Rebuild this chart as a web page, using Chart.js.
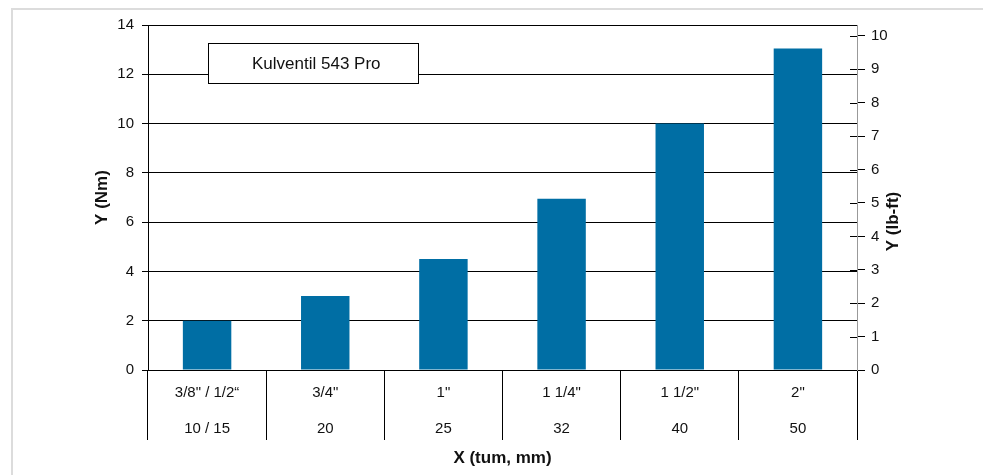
<!DOCTYPE html>
<html>
<head>
<meta charset="utf-8">
<script src="https://cdn.jsdelivr.net/npm/chart.js@4"></script>
<style>
    body { margin: 0; background: #fff; }
    #wrap { position: relative; width: 983px; height: 475px; overflow: hidden; }
    #frame { position: absolute; left: 11px; top: 8px; width: 990px; height: 480px; border-left: 2px solid #dcdcdc; border-top: 2px solid #dcdcdc; }
    canvas { position: absolute; left: 0; top: 0; }
</style>
</head>
<body>
<div id="wrap">
    <div id="frame"></div>
    <canvas id="chart" width="983" height="475"></canvas>
</div>
<script>
const sizesInch = ['3/8" / 1/2“', '3/4"', '1"', '1 1/4"', '1 1/2"', '2"'];
const sizesMm = ['10 / 15', '20', '25', '32', '40', '50'];
const torqueNm = [2, 3, 4.5, 6.95, 10, 13.05];
const lbftTicks = [0, 1, 2, 3, 4, 5, 6, 7, 8, 9, 10];
const seriesName = 'Kulventil 543 Pro';
const rightTitle = 'Y (lb-ft)';
const nmToLbft = 0.7376;

// deux lignes par catégorie : tum puis mm
const labels = sizesInch.map((s, i) => [s, sizesMm[i]]);

const font = { family: '"Liberation Sans", Arial, sans-serif', size: 15 };
const titleFont = { family: '"Liberation Sans", Arial, sans-serif', size: 17, weight: 'bold' };

// boite de légende sans carré de couleur
const legendBox = {
    id: 'legendBox',
    afterDraw(chart) {
        const ctx = chart.ctx;
        const area = chart.chartArea;
        const x = area.left + 60, y = area.top + 18;
        ctx.save();
        ctx.fillStyle = '#fff';
        ctx.strokeStyle = '#000';
        ctx.lineWidth = 1;
        ctx.fillRect(x, y, 210, 40);
        ctx.strokeRect(x + 0.5, y + 0.5, 210, 40);
        ctx.fillStyle = '#111';
        ctx.font = '17px "Liberation Sans", Arial, sans-serif';
        ctx.textBaseline = 'middle';
        ctx.fillText(chart.data.datasets[0].label, x + 44, y + 21);
        ctx.restore();
    }
};

// axe droit : traits qui traversent la ligne + titre lu de bas en haut
const rightAxisExtras = {
    id: 'rightAxisExtras',
    afterDraw(chart) {
        const s = chart.scales.y2;
        const ctx = chart.ctx;
        ctx.save();
        ctx.strokeStyle = '#000';
        ctx.lineWidth = 1;
        s.ticks.forEach(t => {
            const py = Math.round(s.getPixelForValue(t.value)) + 0.5;
            ctx.beginPath();
            ctx.moveTo(s.left - 7, py);
            ctx.lineTo(s.left, py);
            ctx.stroke();
        });
        ctx.translate(s.right - 10, (s.top + s.bottom) / 2 + 24);
        ctx.rotate(-Math.PI / 2);
        ctx.fillStyle = '#111';
        ctx.font = 'bold 17px "Liberation Sans", Arial, sans-serif';
        ctx.textAlign = 'center';
        ctx.textBaseline = 'middle';
        ctx.fillText(rightTitle, 0, 0);
        ctx.restore();
    }
};

new Chart(document.getElementById('chart'), {
    type: 'bar',
    data: {
        labels: labels,
        datasets: [{
            label: seriesName,
            data: torqueNm,
            backgroundColor: '#006ea4',
            categoryPercentage: 1,
            barPercentage: 0.41
        }]
    },
    options: {
        responsive: false,
        animation: false,
        layout: { padding: { top: 25, right: 80, left: 92, bottom: 0 } },
        plugins: { legend: { display: false }, tooltip: { enabled: false } },
        scales: {
            x: {
                grid: { offset: true, drawOnChartArea: false, color: '#000', tickLength: 70 },
                border: { color: '#000' },
                ticks: { color: '#111', font: { ...font, lineHeight: 2.45 }, padding: -66, maxRotation: 0 },
                title: { display: true, text: 'X (tum, mm)', color: '#111', font: titleFont, padding: { top: 0, bottom: 6 } },
                afterFit: s => { s.height = 105; }
            },
            y: {
                min: 0, max: 14,
                ticks: { stepSize: 2, color: '#111', font: font, padding: 8 },
                grid: { color: '#000', tickLength: 6 },
                border: { color: '#000' },
                title: { display: true, text: 'Y (Nm)', color: '#111', font: titleFont, padding: 0 },
                afterFit: s => { s.width = 148 - 92; }
            },
            y2: {
                position: 'right',
                min: 0, max: 14 * nmToLbft,
                afterBuildTicks: s => { s.ticks = lbftTicks.map(v => ({ value: v })); },
                ticks: { color: '#111', font: font, padding: 6 },
                grid: { drawOnChartArea: false, color: '#000', tickLength: 8 },
                border: { color: '#999' },
                afterFit: s => { s.width = 983 - 857 - 80; }
            }
        }
    },
    plugins: [legendBox, rightAxisExtras]
});
</script>
</body>
</html>
